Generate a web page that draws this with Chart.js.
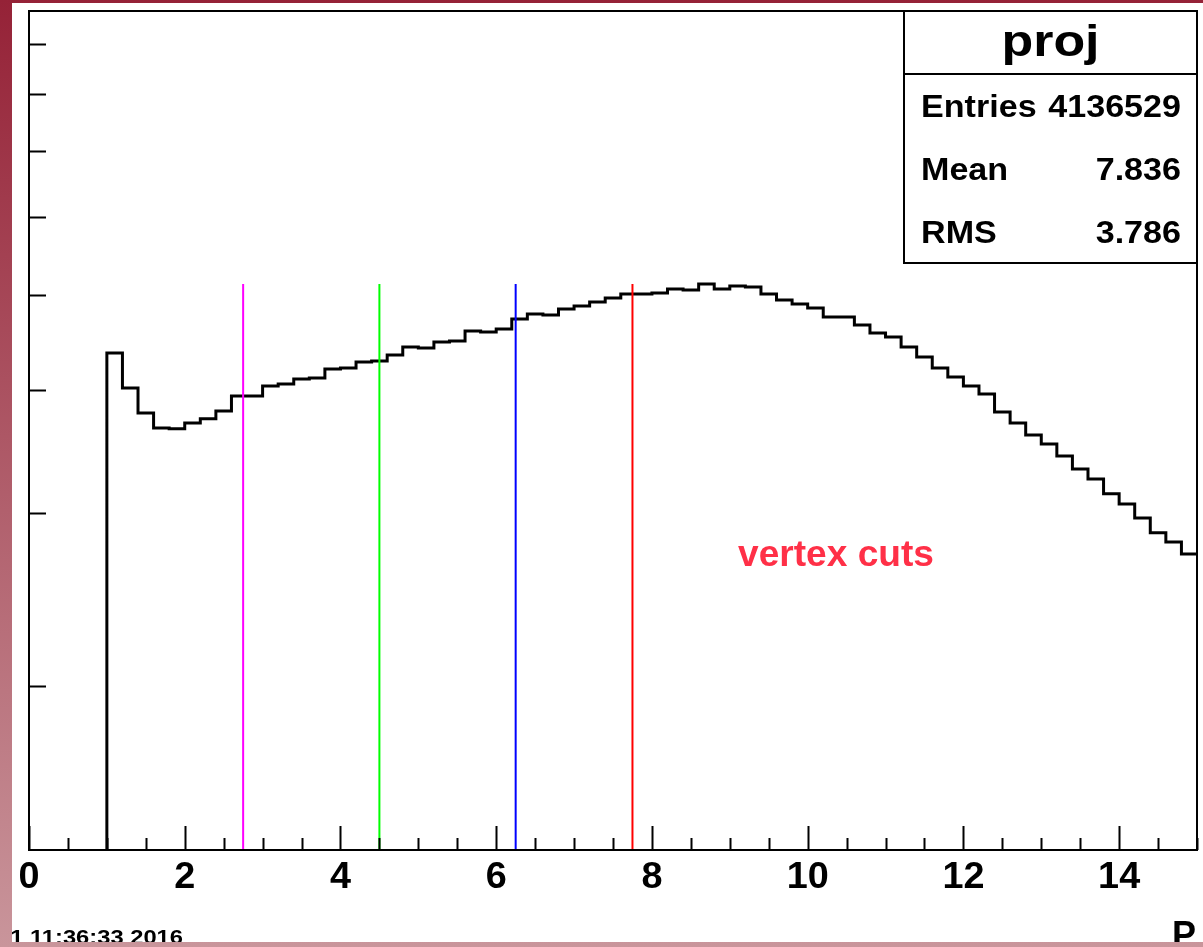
<!DOCTYPE html>
<html>
<head>
<meta charset="utf-8">
<script src="https://cdn.jsdelivr.net/npm/chart.js@4/dist/chart.umd.min.js"></script>
<style>
  html, body { margin: 0; padding: 0; }
  body {
    width: 1203px; height: 947px; overflow: hidden; position: relative;
    background: linear-gradient(#952237, #c9959b);
  }
  #paper { position: absolute; left: 12px; top: 3px; width: 1191px; height: 939px; background: #fff; }
  #c { position: absolute; left: 0; top: 0; }
</style>
</head>
<body>
<div id="paper"></div>
<canvas id="c" width="1203" height="947"></canvas>
<script>
// histogram "proj": bins of 0.2 starting at P = 1.0
const binStart = 1.0;
const binWidth = 0.2;
const binCounts = [
    43650, 40220, 37930, 36620, 36540,
    37050, 37410, 38110, 39470, 39470,
    40400, 40600, 41070, 41170, 42040,
    42140, 42740, 42840, 43450, 44260,
    44160, 44790, 44890, 45960, 45850,
    46170, 47270, 47830, 47720, 48390,
    48730, 49190, 49650, 50120, 50120,
    50230, 50710, 50590, 51310, 50710,
    51070, 50950, 50120, 49420, 48960,
    48510, 47490, 47490, 46610, 45740,
    45320, 44260, 43240, 42140, 41260,
    40400, 39660, 38020, 37050, 36020,
    35270, 34290, 33270, 32490, 31380,
    30650, 29660, 28640, 28040, 27260
];

// vertical cut markers
const cutValues = [2.75, 4.5, 6.25, 7.75];
const cutColors = ['#ff00ff', '#00ff00', '#0000ff', '#ff0000'];
const cutTop = 51300;

// axes
const xMin = 0, xMax = 15;
const yMin = 13625, yMax = 97250;
const xLabelValues = [0, 2, 4, 6, 8, 10, 12, 14];
const xMinorStep = 0.5;
const yTickValues = [20000, 30000, 40000, 50000, 60000, 70000, 80000, 90000];

// stats box
const statsTitle = 'proj';
const statsNames = ['Entries', 'Mean', 'RMS'];
const statsValues = ['4136529', '7.836', '3.786'];

const histPoints = [{ x: binStart, y: yMin }];
binCounts.forEach((v, i) => histPoints.push({ x: binStart + i * binWidth, y: v }));
histPoints.push({ x: binStart + binCounts.length * binWidth, y: binCounts[binCounts.length - 1] });

const cutSets = cutValues.map((v, i) => ({
    data: [{ x: v, y: yMin }, { x: v, y: cutTop }],
    borderColor: cutColors[i],
    borderWidth: 2,
    pointRadius: 0,
    fill: false
}));

const FONT = '"Liberation Sans", Arial, Helvetica, sans-serif';

// the screenshot is a bit stretched sideways, so text gets an x scale
function txt(ctx, s, x, y, size, align, sx, color) {
    ctx.save();
    ctx.translate(x, y);
    ctx.scale(sx, 1);
    ctx.font = 'bold ' + size + 'px ' + FONT;
    ctx.fillStyle = color || '#000';
    ctx.textAlign = align;
    ctx.textBaseline = 'alphabetic';
    ctx.fillText(s, 0, 0);
    ctx.restore();
}

const rootFrame = {
    id: 'rootFrame',
    afterDatasetsDraw(chart) {
        const ctx = chart.ctx;
        const a = chart.chartArea;
        const xs = chart.scales.x, ys = chart.scales.y;
        ctx.save();
        ctx.beginPath();
        ctx.rect(12, 3, 1191, 939);
        ctx.clip();

        ctx.strokeStyle = '#000';
        ctx.lineWidth = 2;
        ctx.strokeRect(a.left, a.top, a.right - a.left, a.bottom - a.top);

        // x ticks point inward
        ctx.beginPath();
        for (let v = xMin; v <= xMax; v += xMinorStep) {
            const px = Math.round(xs.getPixelForValue(v)) + 0.5;
            const len = xLabelValues.includes(v) ? 24 : 12;
            ctx.moveTo(px, a.bottom);
            ctx.lineTo(px, a.bottom - len);
        }
        // y ticks on the left edge
        yTickValues.forEach(v => {
            const py = Math.round(ys.getPixelForValue(v)) + 0.5;
            ctx.moveTo(a.left, py);
            ctx.lineTo(a.left + 17, py);
        });
        ctx.lineWidth = 2;
        ctx.stroke();

        xLabelValues.forEach(v => txt(ctx, String(v), xs.getPixelForValue(v), 888, 36, 'center', 1.05));

        // stats box
        const bx = 904, by = a.top, bw = a.right - 904, bh = 252;
        ctx.fillStyle = '#fff';
        ctx.fillRect(bx, by, bw, bh);
        ctx.strokeRect(bx, by, bw, bh);
        ctx.beginPath();
        ctx.moveTo(bx, 74);
        ctx.lineTo(bx + bw, 74);
        ctx.stroke();
        txt(ctx, statsTitle, bx + bw / 2, 56, 44, 'center', 1.18);
        statsNames.forEach((n, i) => {
            const y = 117 + i * 63;
            txt(ctx, n, 921, y, 31, 'left', 1.1);
            txt(ctx, statsValues[i], 1181, y, 31, 'right', 1.1);
        });

        txt(ctx, 'vertex cuts', 836, 566, 36, 'center', 1.03, '#ff3047');
        txt(ctx, '1 11:36:33 2016', 183, 944, 21, 'right', 1.13);
        txt(ctx, 'P', 1196, 947, 36, 'right', 1.0);
        ctx.restore();
    }
};

new Chart(document.getElementById('c'), {
    type: 'line',
    data: {
        datasets: cutSets.concat([{
            data: histPoints,
            stepped: 'before',
            borderColor: '#000',
            borderWidth: 3,
            pointRadius: 0,
            fill: false
        }])
    },
    options: {
        responsive: false,
        devicePixelRatio: 1,
        animation: false,
        layout: { padding: { left: 29, top: 11, right: 6, bottom: 97 } },
        plugins: { legend: { display: false }, tooltip: { enabled: false } },
        scales: {
            x: { type: 'linear', min: xMin, max: xMax, display: false },
            y: { type: 'logarithmic', min: yMin, max: yMax, display: false }
        }
    },
    plugins: [rootFrame]
});
</script>
</body>
</html>
